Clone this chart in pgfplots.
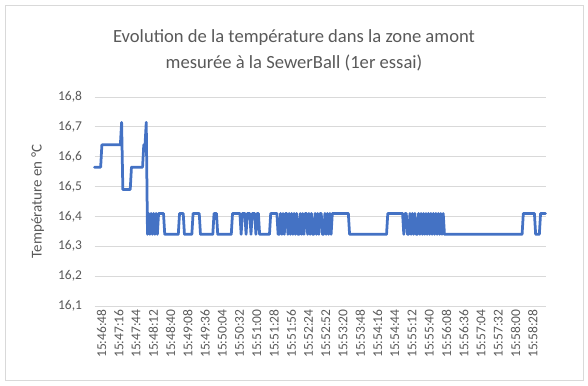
\documentclass[border=0pt]{standalone}
\usepackage{fontspec}
\setmainfont{Carlito}
\usepackage{pgfplots}
\pgfplotsset{compat=1.18}
\definecolor{serie}{HTML}{4472C4}
\definecolor{grille}{HTML}{D9D9D9}
\definecolor{texte}{HTML}{595959}

\begin{document}
\begin{tikzpicture}
\useasboundingbox (0pt,0pt) rectangle (588pt,385pt);
\draw[grille, line width=0.75pt] (5pt,5pt) rectangle (583pt,380pt);
\node[texte, font=\fontsize{18.6}{26}\selectfont, align=center] at (294pt,335pt)
  {Evolution de la température dans la zone amont\\mesurée à la SewerBall (1er essai)};
\begin{axis}[
  at={(94.5pt,79pt)}, anchor=south west,
  scale only axis, width=451pt, height=209pt,
  xmin=0, xmax=183, ymin=16.1, ymax=16.8,
  clip=false,
  axis line style={draw=none},
  major tick length=0pt,
  ymajorgrids, grid style={grille, line width=0.75pt},
  ytick={16.1,16.2,...,16.8},
  xtick={0,7,...,175},
  xticklabels={15:46:48,15:47:16,15:47:44,15:48:12,15:48:40,15:49:08,15:49:36,15:50:04,15:50:32,15:51:00,15:51:28,15:51:56,15:52:24,15:52:52,15:53:20,15:53:48,15:54:16,15:54:44,15:55:12,15:55:40,15:56:08,15:56:36,15:57:04,15:57:32,15:58:00,15:58:28},
  xticklabel style={rotate=90, anchor=east, yshift=-7pt, texte, font=\fontsize{13.5}{15}\selectfont},
  yticklabel style={xshift=-9pt, texte, font=\fontsize{13.5}{15}\selectfont,
    /pgf/number format/.cd, use comma, fixed, fixed zerofill, precision=1, assume math mode=true},
  ylabel={Température en °C},
  every axis y label/.style={at={(axis description cs:-0.126,0.5)}, rotate=90, anchor=center,
    texte, font=\fontsize{15}{17}\selectfont},
]
% one reading every 2 s; x counts in steps of 4 s (a label every 28 s)
\addplot[serie, line width=2.75pt, line join=round, line cap=round, mark=none] coordinates {
(0,16.565) (0.5,16.565) (1,16.565) (1.5,16.565) (2,16.565) (2.5,16.565)
(3,16.64) (3.5,16.64) (4,16.64) (4.5,16.64) (5,16.64) (5.5,16.64) (6,16.64) (6.5,16.64)
(7,16.64) (7.5,16.64) (8,16.64) (8.5,16.64) (9,16.64) (9.5,16.64) (10,16.64) (10.5,16.64)
(11,16.715)
(11.5,16.49) (12,16.49) (12.5,16.49) (13,16.49) (13.5,16.49) (14,16.49) (14.5,16.49)
(15,16.565) (15.5,16.565) (16,16.565) (16.5,16.565) (17,16.565) (17.5,16.565) (18,16.565)
(18.5,16.565) (19,16.565) (19.5,16.565)
(20,16.64) (20.5,16.64) (21,16.715)
(21.5,16.34) (22,16.41) (22.5,16.34) (23,16.41) (23.5,16.34) (24,16.41) (24.5,16.34) (25,16.41)
(25.5,16.34) (26,16.41) (26.5,16.41) (27,16.41) (27.5,16.41) (28,16.41) (28.5,16.34)
(29,16.34) (29.5,16.34) (30,16.34) (30.5,16.34) (31,16.34) (31.5,16.34) (32,16.34) (32.5,16.34)
(33,16.34) (33.5,16.34) (34,16.34)
(34.5,16.41) (35,16.41) (35.5,16.41) (36,16.41)
(36.5,16.34) (37,16.34) (37.5,16.34) (38,16.34) (38.5,16.34) (39,16.34) (39.5,16.34)
(40,16.41) (40.5,16.41) (41,16.41) (41.5,16.41) (42,16.41) (42.5,16.41)
(43,16.34) (43.5,16.34) (44,16.34) (44.5,16.34) (45,16.34) (45.5,16.34) (46,16.34) (46.5,16.34)
(47,16.34) (47.5,16.34) (48,16.34)
(48.5,16.41) (49,16.41) (49.5,16.41)
(50,16.34) (50.5,16.34) (51,16.34) (51.5,16.34) (52,16.34) (52.5,16.34) (53,16.34) (53.5,16.34)
(54,16.34) (54.5,16.34) (55,16.34) (55.5,16.34)
(56,16.41) (56.5,16.41) (57,16.41) (57.5,16.41) (58,16.41) (58.5,16.41) (59,16.41)
(59.5,16.34) (60,16.41) (60.5,16.41) (61,16.41) (61.5,16.34) (62,16.41) (62.5,16.41) (63,16.41)
(63.5,16.34) (64,16.41) (64.5,16.41) (65,16.41) (65.5,16.34) (66,16.41) (66.5,16.41)
(67,16.34) (67.5,16.34) (68,16.34) (68.5,16.34) (69,16.34) (69.5,16.34) (70,16.34) (70.5,16.34)
(71,16.34)
(71.5,16.41) (72,16.41) (72.5,16.41) (73,16.41) (73.5,16.41) (74,16.41)
(74.5,16.34) (75,16.34)
(75.5,16.41) (76,16.34) (76.5,16.41) (77,16.34) (77.5,16.41) (78,16.41)
(78.5,16.34)
(79,16.41) (79.5,16.34) (80,16.41) (80.5,16.34) (81,16.41) (81.5,16.34) (82,16.41)
(82.5,16.34) (83,16.34)
(83.5,16.41) (84,16.34) (84.5,16.41) (85,16.34) (85.5,16.41) (86,16.41) (86.5,16.34) (87,16.41)
(87.5,16.34) (88,16.41)
(88.5,16.34) (89,16.34)
(89.5,16.41) (90,16.34) (90.5,16.41) (91,16.34) (91.5,16.41) (92,16.41)
(92.5,16.34) (93,16.34)
(93.5,16.41) (94,16.34) (94.5,16.41) (95,16.34) (95.5,16.41) (96,16.34) (96.5,16.41)
(97,16.41) (97.5,16.41) (98,16.41) (98.5,16.41) (99,16.41) (99.5,16.41) (100,16.41)
(100.5,16.41) (101,16.41) (101.5,16.41) (102,16.41) (102.5,16.41) (103,16.41)
(103.5,16.34) (104,16.34) (104.5,16.34) (105,16.34) (105.5,16.34) (106,16.34) (106.5,16.34)
(107,16.34) (107.5,16.34) (108,16.34) (108.5,16.34) (109,16.34) (109.5,16.34) (110,16.34)
(110.5,16.34) (111,16.34) (111.5,16.34) (112,16.34) (112.5,16.34) (113,16.34) (113.5,16.34)
(114,16.34) (114.5,16.34) (115,16.34) (115.5,16.34) (116,16.34) (116.5,16.34) (117,16.34)
(117.5,16.34) (118,16.34) (118.5,16.34)
(119,16.41) (119.5,16.41) (120,16.41) (120.5,16.41) (121,16.41) (121.5,16.41) (122,16.41)
(122.5,16.41) (123,16.41) (123.5,16.41) (124,16.41) (124.5,16.41) (125,16.41)
(125.5,16.34) (126,16.41) (126.5,16.41) (127,16.34) (127.5,16.34) (128,16.41) (128.5,16.34)
(129,16.41) (129.5,16.34) (130,16.41) (130.5,16.34) (131,16.34) (131.5,16.41) (132,16.34)
(132.5,16.41) (133,16.34) (133.5,16.41) (134,16.34) (134.5,16.41) (135,16.34) (135.5,16.41)
(136,16.34) (136.5,16.41) (137,16.34) (137.5,16.41) (138,16.34) (138.5,16.41) (139,16.34)
(139.5,16.41) (140,16.34) (140.5,16.41) (141,16.34) (141.5,16.41) (142,16.34)
(142.5,16.34) (143,16.34) (143.5,16.34) (144,16.34) (144.5,16.34) (145,16.34) (145.5,16.34)
(146,16.34) (146.5,16.34) (147,16.34) (147.5,16.34) (148,16.34) (148.5,16.34) (149,16.34)
(149.5,16.34) (150,16.34) (150.5,16.34) (151,16.34) (151.5,16.34) (152,16.34) (152.5,16.34)
(153,16.34) (153.5,16.34) (154,16.34) (154.5,16.34) (155,16.34) (155.5,16.34) (156,16.34)
(156.5,16.34) (157,16.34) (157.5,16.34) (158,16.34) (158.5,16.34) (159,16.34) (159.5,16.34)
(160,16.34) (160.5,16.34) (161,16.34) (161.5,16.34) (162,16.34) (162.5,16.34) (163,16.34)
(163.5,16.34) (164,16.34) (164.5,16.34) (165,16.34) (165.5,16.34) (166,16.34) (166.5,16.34)
(167,16.34) (167.5,16.34) (168,16.34) (168.5,16.34) (169,16.34) (169.5,16.34) (170,16.34)
(170.5,16.34) (171,16.34) (171.5,16.34) (172,16.34) (172.5,16.34) (173,16.34) (173.5,16.34)
(174,16.41) (174.5,16.41) (175,16.41) (175.5,16.41) (176,16.41) (176.5,16.41) (177,16.41)
(177.5,16.41) (178,16.41) (178.5,16.41)
(179,16.34) (179.5,16.34) (180,16.34) (180.5,16.34)
(181,16.41) (181.5,16.41) (182,16.41) (182.5,16.41) (183,16.41)
};
\end{axis}
\end{tikzpicture}
\end{document}
